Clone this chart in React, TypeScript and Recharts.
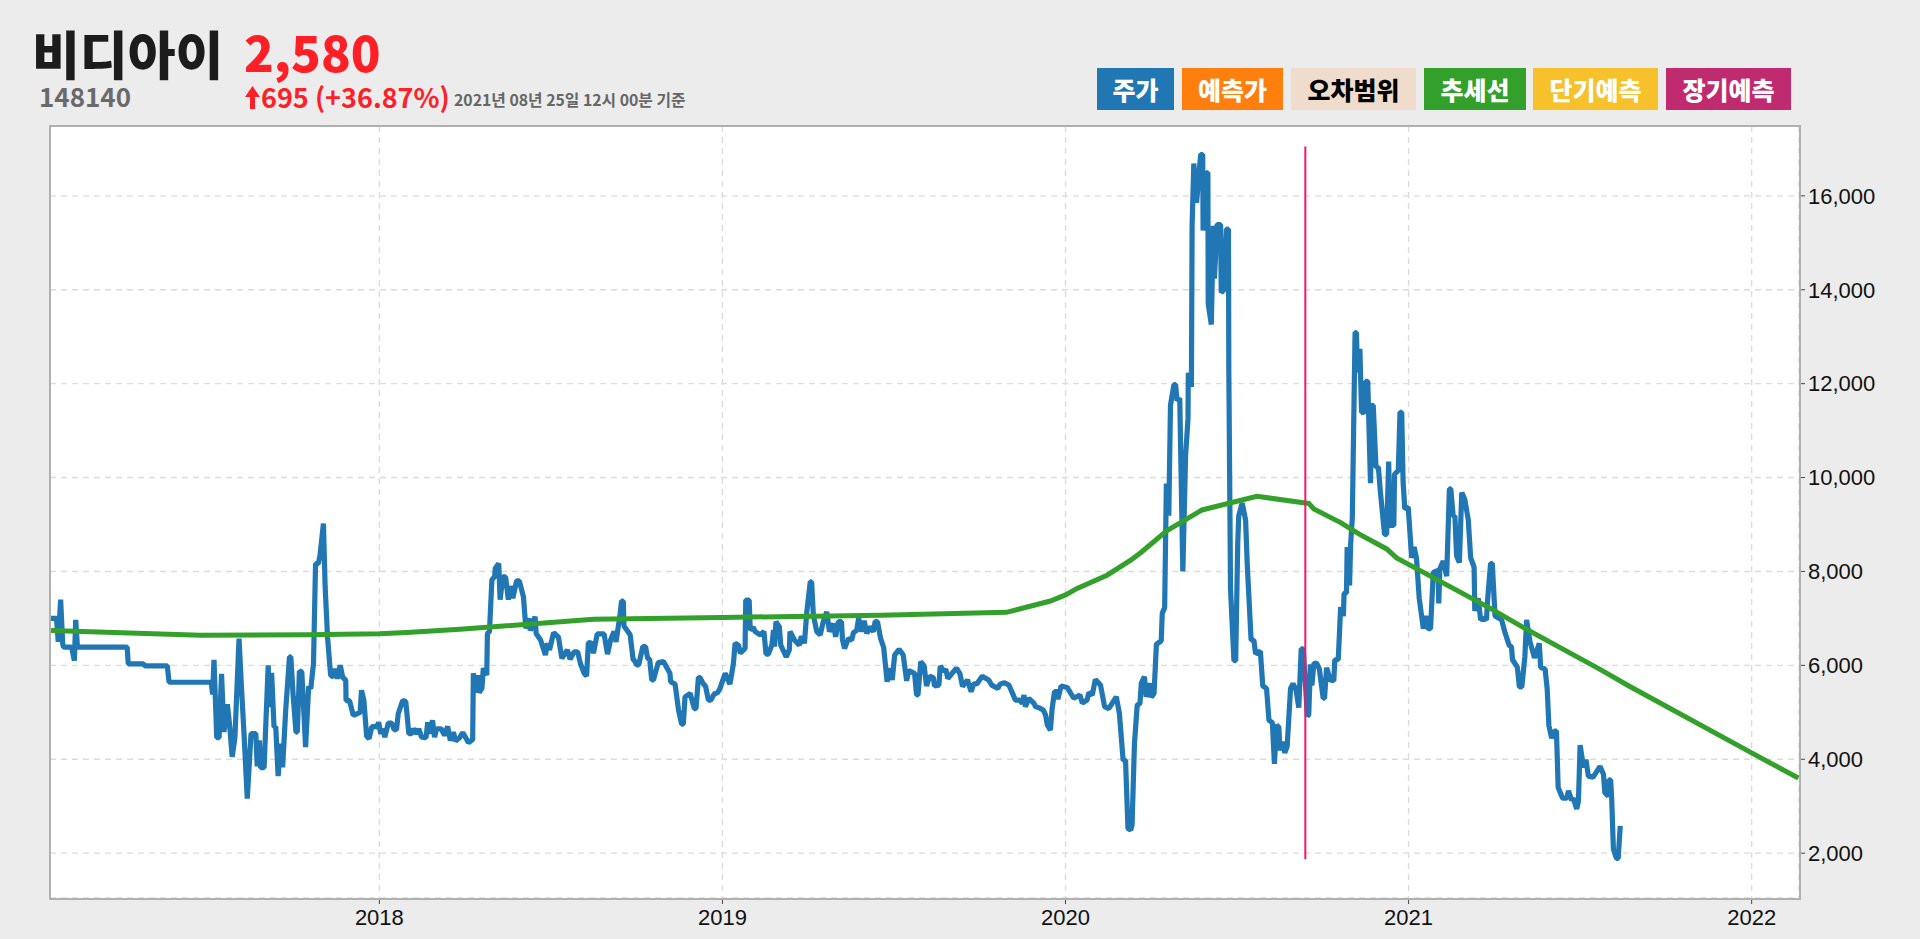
import { LineChart, Line, XAxis, YAxis, CartesianGrid, ReferenceLine } from "recharts";

// [decimal year, price]
const price2017 = [
  [2017.043, 7000], [2017.059, 7000], [2017.064, 6500], [2017.071, 7400], [2017.077, 6460], [2017.079, 6390],
  [2017.103, 6390], [2017.111, 6100], [2017.115, 6970], [2017.12, 6390], [2017.265, 6390], [2017.268, 6030],
  [2017.312, 6030], [2017.317, 5990], [2017.382, 5990], [2017.387, 5640], [2017.51, 5640], [2017.514, 5380],
  [2017.518, 6120], [2017.526, 4460], [2017.533, 4460], [2017.54, 5820], [2017.547, 4580], [2017.557, 5170],
  [2017.564, 4690], [2017.571, 4050], [2017.579, 4460], [2017.591, 6570], [2017.598, 5540], [2017.605, 4615],
  [2017.615, 3160], [2017.626, 4545], [2017.64, 4545], [2017.644, 3850], [2017.65, 4400], [2017.654, 3820],
  [2017.664, 3820], [2017.676, 6000], [2017.679, 5110], [2017.686, 5840], [2017.693, 4690], [2017.698, 4690],
  [2017.705, 3640], [2017.712, 4330], [2017.718, 3830], [2017.727, 5040], [2017.738, 6180], [2017.742, 6180],
  [2017.749, 5330], [2017.757, 4580], [2017.761, 4580], [2017.767, 5880], [2017.774, 5860], [2017.785, 4260],
  [2017.794, 5550], [2017.8, 5500], [2017.808, 6035], [2017.814, 8165], [2017.822, 8165], [2017.827, 8340],
  [2017.837, 9020], [2017.842, 7670], [2017.849, 6600], [2017.858, 5790], [2017.866, 5750], [2017.871, 5930],
  [2017.878, 5715], [2017.886, 6000], [2017.893, 5750], [2017.902, 5680], [2017.903, 5250], [2017.913, 5250],
  [2017.919, 5080], [2017.924, 4935], [2017.944, 5000], [2017.948, 5470], [2017.955, 5250], [2017.963, 4490],
  [2017.97, 4440], [2017.978, 4690], [2017.987, 4700], [2017.994, 4690], [2017.998, 4790],
];

const price2018 = [
  [2018.004, 4545], [2018.01, 4650], [2018.016, 4470], [2018.026, 4770], [2018.036, 4770], [2018.043, 4630],
  [2018.05, 4630], [2018.055, 4970], [2018.068, 5250], [2018.077, 5230], [2018.086, 4545], [2018.094, 4545],
  [2018.099, 4650], [2018.109, 4545], [2018.115, 4650], [2018.123, 4470], [2018.136, 4460], [2018.141, 4790],
  [2018.146, 4545], [2018.155, 4830], [2018.161, 4470], [2018.167, 4650], [2018.18, 4650], [2018.19, 4510],
  [2018.199, 4700], [2018.207, 4400], [2018.216, 4580], [2018.222, 4390], [2018.234, 4460], [2018.243, 4570],
  [2018.26, 4350], [2018.272, 4420], [2018.274, 5830], [2018.282, 5420], [2018.287, 5790], [2018.291, 5420],
  [2018.299, 5510], [2018.303, 5940], [2018.313, 5790], [2018.315, 6680], [2018.321, 6720], [2018.328, 7820],
  [2018.336, 7890], [2018.338, 8070], [2018.348, 8170], [2018.352, 7400], [2018.36, 7890], [2018.368, 7880],
  [2018.376, 7400], [2018.381, 7690], [2018.389, 7430], [2018.4, 7800], [2018.408, 7800], [2018.42, 7460],
  [2018.427, 6790], [2018.437, 7000], [2018.44, 6740], [2018.454, 7040], [2018.457, 6680], [2018.47, 6540],
  [2018.484, 6220], [2018.49, 6470], [2018.496, 6330], [2018.508, 6700], [2018.522, 6600], [2018.532, 6150],
  [2018.548, 6330], [2018.556, 6130], [2018.568, 6290], [2018.578, 6290], [2018.586, 6040], [2018.597, 5830],
  [2018.604, 5770], [2018.609, 6470], [2018.616, 6500], [2018.624, 6260], [2018.635, 6670], [2018.655, 6670],
  [2018.665, 6240], [2018.674, 6540], [2018.684, 6720], [2018.69, 6500], [2018.702, 7110], [2018.706, 7370],
  [2018.711, 7370], [2018.713, 6840], [2018.731, 6650], [2018.74, 6110], [2018.743, 6110], [2018.75, 6010],
  [2018.756, 6010], [2018.768, 6400], [2018.776, 6400], [2018.782, 6150], [2018.788, 6130], [2018.794, 5690],
  [2018.799, 5690], [2018.813, 6060], [2018.828, 6080], [2018.847, 5830], [2018.849, 5650], [2018.862, 5600],
  [2018.872, 5050], [2018.881, 4750], [2018.886, 4750], [2018.891, 5330], [2018.906, 5400], [2018.918, 5080],
  [2018.923, 5080], [2018.93, 5740], [2018.935, 5740], [2018.943, 5620], [2018.951, 5550], [2018.959, 5260],
  [2018.966, 5260], [2018.976, 5390], [2018.986, 5420], [2018.993, 5510],
];

const price2019 = [
  [2019.008, 5830], [2019.022, 5600], [2019.032, 6040], [2019.037, 6470], [2019.047, 6430], [2019.052, 6260],
  [2019.066, 6360], [2019.068, 7390], [2019.078, 7390], [2019.081, 6750], [2019.09, 6810], [2019.095, 6720],
  [2019.11, 6650], [2019.121, 6720], [2019.127, 6240], [2019.134, 6240], [2019.144, 6430], [2019.149, 6750],
  [2019.152, 6400], [2019.156, 6930], [2019.166, 6820], [2019.17, 6430], [2019.186, 6180], [2019.195, 6330],
  [2019.197, 6720], [2019.21, 6540], [2019.224, 6430], [2019.23, 6620], [2019.239, 6470], [2019.246, 7140],
  [2019.256, 7780], [2019.26, 7780], [2019.265, 7070], [2019.275, 6720], [2019.285, 6650], [2019.294, 6930],
  [2019.304, 7140], [2019.312, 6720], [2019.323, 6890], [2019.33, 6610], [2019.338, 6930], [2019.347, 6930],
  [2019.35, 6540], [2019.356, 6360], [2019.367, 6570], [2019.377, 6540], [2019.382, 6700], [2019.391, 6740],
  [2019.397, 7000], [2019.406, 6720], [2019.413, 6950], [2019.421, 6680], [2019.429, 6820], [2019.44, 6720],
  [2019.445, 6930], [2019.452, 6930], [2019.461, 6575], [2019.47, 6380], [2019.48, 5650], [2019.488, 5940],
  [2019.495, 5690], [2019.502, 6220], [2019.515, 6340], [2019.527, 6220], [2019.537, 5670], [2019.543, 5890],
  [2019.56, 5830], [2019.566, 5370], [2019.57, 5370], [2019.578, 6080], [2019.588, 5990], [2019.595, 5560],
  [2019.604, 5770], [2019.615, 5740], [2019.618, 5560], [2019.631, 5580], [2019.635, 5990], [2019.646, 5870],
  [2019.651, 5920], [2019.657, 5720], [2019.682, 5940], [2019.692, 5830], [2019.7, 5550], [2019.714, 5690],
  [2019.725, 5440], [2019.732, 5600], [2019.742, 5610], [2019.757, 5770], [2019.776, 5690], [2019.785, 5580],
  [2019.803, 5510], [2019.809, 5600], [2019.822, 5630], [2019.835, 5580], [2019.854, 5260], [2019.866, 5260],
  [2019.874, 5190], [2019.879, 5370], [2019.883, 5120], [2019.893, 5300], [2019.908, 5190], [2019.913, 5120],
  [2019.922, 5100], [2019.935, 5050], [2019.942, 4940], [2019.947, 4730], [2019.956, 4620], [2019.961, 5080],
  [2019.968, 5440], [2019.976, 5440], [2019.978, 5280], [2019.987, 5560],
];

const price2020 = [
  [2020.005, 5530], [2020.024, 5300], [2020.042, 5370], [2020.049, 5200], [2020.063, 5260], [2020.068, 5420],
  [2020.078, 5370], [2020.087, 5700], [2020.102, 5580], [2020.114, 5120], [2020.126, 5080], [2020.148, 5330],
  [2020.157, 4980], [2020.168, 3980], [2020.175, 3980], [2020.182, 2530], [2020.19, 2490], [2020.194, 2600],
  [2020.201, 4340], [2020.209, 5150], [2020.217, 5190], [2020.221, 5620], [2020.23, 5760], [2020.235, 5330],
  [2020.246, 5620], [2020.25, 5320], [2020.258, 5400], [2020.265, 6450], [2020.279, 6520], [2020.282, 7110],
  [2020.289, 7230], [2020.294, 9875], [2020.301, 9190], [2020.306, 11540], [2020.316, 11980], [2020.321, 11980],
  [2020.325, 11640], [2020.333, 11690], [2020.342, 8000], [2020.35, 10460], [2020.357, 11250], [2020.358, 12230],
  [2020.367, 11930], [2020.369, 15360], [2020.374, 16690], [2020.382, 15850], [2020.394, 16880], [2020.4, 16880],
  [2020.401, 15260], [2020.41, 16490], [2020.415, 16490], [2020.416, 13700], [2020.425, 13260], [2020.431, 15360],
  [2020.434, 14240], [2020.442, 15390], [2020.452, 15390], [2020.454, 13940], [2020.461, 13990], [2020.469, 15290],
  [2020.475, 15290], [2020.476, 12330], [2020.481, 7620], [2020.491, 6100], [2020.496, 6100], [2020.502, 8600],
  [2020.505, 9190], [2020.515, 9460], [2020.525, 9090], [2020.53, 8110], [2020.541, 6540], [2020.549, 6540],
  [2020.554, 6250], [2020.568, 6300], [2020.575, 5560], [2020.586, 5510], [2020.593, 4830], [2020.603, 4780],
  [2020.609, 3900], [2020.615, 4730], [2020.622, 4680], [2020.625, 4190], [2020.632, 4370], [2020.639, 4140],
  [2020.646, 4270], [2020.656, 5510], [2020.663, 5610], [2020.672, 5480], [2020.68, 5100], [2020.687, 6350],
  [2020.693, 6350], [2020.705, 4920], [2020.709, 4950], [2020.714, 6020], [2020.718, 5570], [2020.724, 6040],
  [2020.732, 6050], [2020.74, 5920], [2020.751, 5300], [2020.755, 5300], [2020.761, 5950], [2020.772, 5690],
  [2020.782, 5670], [2020.785, 6120], [2020.795, 6120], [2020.802, 7240], [2020.81, 7050], [2020.812, 7530],
  [2020.819, 7550], [2020.821, 8520], [2020.828, 7700], [2020.831, 8560], [2020.836, 9140], [2020.844, 13090],
  [2020.848, 13090], [2020.851, 12240], [2020.858, 12740], [2020.863, 11390], [2020.87, 11390], [2020.875, 12050],
  [2020.881, 12050], [2020.889, 9880], [2020.893, 11540], [2020.897, 11540], [2020.905, 10220], [2020.912, 10220],
  [2020.918, 9680], [2020.93, 8790], [2020.936, 8790], [2020.942, 10340], [2020.946, 8980], [2020.957, 8980],
  [2020.959, 10070], [2020.97, 10150], [2020.975, 11390], [2020.98, 11390], [2020.984, 9910], [2020.989, 9330],
  [2020.999, 9370],
];

const price2021 = [
  [2021.009, 8290], [2021.016, 8520], [2021.023, 8290], [2021.031, 7430], [2021.043, 6780], [2021.05, 7050],
  [2021.057, 6780], [2021.064, 6780], [2021.072, 7980], [2021.086, 8020], [2021.088, 7320], [2021.091, 8050],
  [2021.101, 8220], [2021.111, 7900], [2021.119, 9760], [2021.123, 9760], [2021.13, 9180], [2021.135, 9180],
  [2021.14, 8330], [2021.148, 8190], [2021.155, 9680], [2021.164, 9530], [2021.174, 9100], [2021.181, 8290],
  [2021.191, 8090], [2021.193, 7160], [2021.203, 7430], [2021.21, 6970], [2021.22, 7000], [2021.227, 6970],
  [2021.23, 7360], [2021.239, 8170], [2021.244, 8170], [2021.252, 7050], [2021.271, 6970], [2021.281, 6700],
  [2021.293, 6430], [2021.3, 6390], [2021.303, 6120], [2021.317, 5960], [2021.323, 5540], [2021.33, 5540],
  [2021.339, 6190], [2021.344, 6970], [2021.354, 6500], [2021.367, 6160], [2021.381, 6470], [2021.385, 5960],
  [2021.398, 5920], [2021.404, 5500], [2021.409, 4720], [2021.417, 4450], [2021.425, 4600], [2021.431, 4600],
  [2021.436, 3400], [2021.449, 3170], [2021.461, 3170], [2021.466, 3330], [2021.475, 3130], [2021.48, 3170],
  [2021.49, 2940], [2021.495, 3100], [2021.5, 4300], [2021.51, 3830], [2021.517, 3990], [2021.524, 3640],
  [2021.538, 3620], [2021.558, 3850], [2021.568, 3680], [2021.572, 3290], [2021.582, 3210], [2021.584, 3560],
  [2021.589, 3560], [2021.592, 3170], [2021.597, 2090], [2021.606, 1890], [2021.611, 1890], [2021.617, 2580],
];

const trendPoints = [
  [2017.043, 6745], [2017.478, 6640], [2017.788, 6650], [2018, 6675], [2018.08, 6700], [2018.235, 6770],
  [2018.624, 6980], [2019, 7020], [2019.461, 7070], [2019.828, 7130], [2019.956, 7370], [2020, 7500],
  [2020.034, 7640], [2020.121, 7920], [2020.19, 8240], [2020.219, 8400], [2020.296, 8870], [2020.398, 9310],
  [2020.558, 9600], [2020.699, 9460], [2020.709, 9450], [2020.724, 9330], [2020.802, 9040], [2020.855, 8800],
  [2020.936, 8480], [2020.965, 8290], [2021, 8150], [2021.237, 7220], [2021.334, 6810], [2021.558, 5915],
  [2021.645, 5550], [2022, 4135], [2022.136, 3600],
];

const xTicks = [2018, 2019, 2020, 2021, 2022];
const yTicks = [2000, 4000, 6000, 8000, 10000, 12000, 14000, 16000];
const xDomain = [2017.04, 2022.138];
const yDomain = [1045, 17488];
const forecastStart = 2020.699;
const forecastLine = [1870, 17050];

const legendItems = [
  { label: "주가", left: 1097, width: 77, bg: "#2077b4", color: "#fff" },
  { label: "예측가", left: 1182, width: 101, bg: "#ff7f0e", color: "#fff" },
  { label: "오차범위", left: 1291, width: 125, bg: "#efdccd", color: "#000" },
  { label: "추세선", left: 1424, width: 102, bg: "#33a02c", color: "#fff" },
  { label: "단기예측", left: 1533, width: 125, bg: "#f7c12b", color: "#fff" },
  { label: "장기예측", left: 1666, width: 125, bg: "#c02a6e", color: "#fff" },
];

const toRows = (pairs: number[][], key: string) => pairs.map(([year, v]) => ({ year, [key]: v }));
const priceRows = toRows([...price2017, ...price2018, ...price2019, ...price2020, ...price2021], "price");
const trendRows = toRows(trendPoints, "trend");

const krFont = '"Noto Sans CJK KR", sans-serif';
const axisFont = '"Liberation Sans", sans-serif';

function Label({ text, left, top, size, color, weight = 700 }: { text: string; left: number; top: number; size: number; color: string; weight?: number }) {
  return (
    <span style={{ position: "absolute", left, top, fontFamily: krFont, fontWeight: weight, fontSize: size, lineHeight: 1, color, whiteSpace: "nowrap" }}>
      {text}
    </span>
  );
}

export default function App() {
  return (
    <div style={{ position: "absolute", left: 0, top: 0, width: 1920, height: 939, background: "#ececec", overflow: "hidden" }}>
      <Label text="비디아이" left={32} top={27} size={52} color="#1c1c1c" weight={900} />
      <Label text="2,580" left={244} top={26} size={49} color="#ff2027" weight={900} />
      <Label text="148140" left={39} top={83} size={26} color="#6a6a6a" />
      <svg style={{ position: "absolute", left: 245, top: 86 }} width={15} height={23}>
        <polygon points="7.5,0 15,11 10,11 10,23 5,23 5,11 0,11" fill="#ff2027" />
      </svg>
      <Label text="695 (+36.87%)" left={261} top={83} size={27} color="#ff2027" />
      <Label text="2021년 08년 25일 12시 00분 기준" left={454} top={92} size={15.8} color="#666" />

      {legendItems.map((item) => (
        <div
          key={item.label}
          style={{
            position: "absolute", left: item.left, top: 68, width: item.width, height: 42, lineHeight: "42px",
            background: item.bg, color: item.color, textAlign: "center",
            fontFamily: krFont, fontWeight: 900, fontSize: 25,
          }}
        >
          {item.label}
        </div>
      ))}

      <div style={{ position: "absolute", left: 50, top: 126, width: 1749, height: 772, background: "#fff" }} />
      <div style={{ position: "absolute", left: 0, top: 0 }}>
        <LineChart width={1920} height={939} margin={{ top: 126, right: 0, bottom: 0, left: 50 }}>
          <CartesianGrid stroke="#dcdcdc" strokeWidth={1.4} strokeDasharray="6 5" />
          <XAxis
            type="number"
            dataKey="year"
            domain={xDomain}
            ticks={xTicks}
            allowDataOverflow
            height={41}
            axisLine={false}
            tickSize={6}
            tickMargin={5}
            tickLine={{ stroke: "#444" }}
            tick={{ fontFamily: axisFont, fontSize: 22, fill: "#111" }}
          />
          <YAxis
            orientation="right"
            domain={yDomain}
            ticks={yTicks}
            allowDataOverflow
            width={121}
            axisLine={false}
            tickSize={6}
            tickMargin={3}
            tickLine={{ stroke: "#444" }}
            tick={{ fontFamily: axisFont, fontSize: 22, fill: "#111" }}
            tickFormatter={(v: number) => v.toLocaleString("en-US")}
          />
          <Line data={priceRows} dataKey="price" type="linear" stroke="#2077b4" strokeWidth={5.2} strokeLinejoin="bevel" dot={false} isAnimationActive={false} />
          <Line data={trendRows} dataKey="trend" type="linear" stroke="#33a02c" strokeWidth={5} dot={false} isAnimationActive={false} />
          <ReferenceLine
            segment={[{ x: forecastStart, y: forecastLine[0] }, { x: forecastStart, y: forecastLine[1] }]}
            stroke="#f5176e"
            strokeWidth={2}
          />
        </LineChart>
      </div>
      <div style={{ position: "absolute", left: 49, top: 125, width: 1748, height: 771, border: "2px solid #b0b0b0", pointerEvents: "none" }} />
    </div>
  );
}
